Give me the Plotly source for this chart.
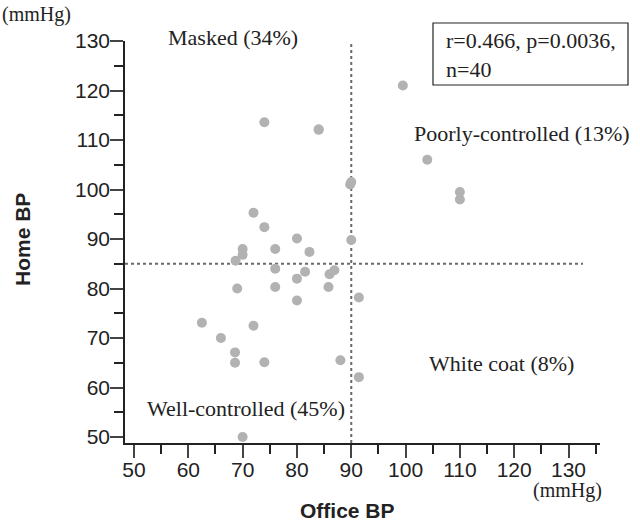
import plotly.graph_objects as go

# Data (Office BP vs Home BP, mmHg)
office_bp = [74, 84, 84, 99.5, 104, 110, 110, 90, 89.8, 72, 74, 80, 70, 70, 76, 82.3,
             90, 68.7, 76, 81.5, 86.9, 86, 80, 69, 76, 85.8, 80, 91.4, 62.5, 72, 66,
             68.6, 68.6, 74, 88, 91.4, 70]
home_bp = [113.6, 112.1, 112.1, 121, 106, 99.5, 98, 101.5, 101, 95.3, 92.4, 90.1, 88,
           86.8, 88, 87.4, 89.8, 85.6, 84, 83.4, 83.7, 82.9, 82, 80, 80.3, 80.3, 77.6,
           78.2, 73.1, 72.5, 70, 67.1, 65, 65.1, 65.5, 62.1, 50]

x_ticks = [50, 60, 70, 80, 90, 100, 110, 120, 130]
y_ticks = [50, 60, 70, 80, 90, 100, 110, 120, 130]
office_cut = 90
home_cut = 85

W, H = 640, 524
L, R, T, B = 125, 40, 41, 81
PW, PH = W - L - R, H - T - B

def px(x):
    return (x - L) / PW

def py(y):
    return (H - B - y) / PH

fig = go.Figure()
fig.add_trace(go.Scatter(
    x=office_bp, y=home_bp, mode="markers",
    marker=dict(size=10, color="#b2b2b2", line=dict(width=0)),
    showlegend=False, cliponaxis=False,
))

dot = dict(color="#6a6a6a", width=2, dash="dot")
fig.add_shape(type="line", xref="x", yref="paper", x0=office_cut, x1=office_cut,
              y0=0, y1=1.0, line=dot, layer="below")
fig.add_shape(type="line", xref="paper", yref="y", x0=0, x1=px(583),
              y0=home_cut, y1=home_cut, line=dot, layer="below")

# stats box
fig.add_shape(type="rect", xref="paper", yref="paper",
              x0=px(433), x1=px(628), y0=py(85), y1=py(23),
              line=dict(color="#222", width=1.2), fillcolor="white")

serif = dict(family="Liberation Serif, Times New Roman, serif", size=22, color="#222")
serif_s = dict(family="Liberation Serif, Times New Roman, serif", size=20, color="#222")
sans_b = dict(family="Liberation Sans, Arial, sans-serif", size=21, color="#222")

def ann(text, x, y, font, xanchor="center", yanchor="middle", align="center", angle=0):
    fig.add_annotation(text=text, xref="paper", yref="paper", x=px(x), y=py(y),
                       xanchor=xanchor, yanchor=yanchor, showarrow=False,
                       font=font, align=align, textangle=angle)

ann("r=0.466, p=0.0036,<br>n=40", 444, 55, serif, xanchor="left", align="left")
ann("Masked (34%)", 233, 37, serif)
ann("Poorly-controlled (13%)", 522, 133, serif)
ann("White coat (8%)", 501, 363, serif)
ann("Well-controlled (45%)", 246, 408, serif)
ann("(mmHg)", 36, 15, serif_s)
ann("(mmHg)", 567, 490, serif_s)
ann("<b>Office BP</b>", 347, 510, sans_b)
ann("<b>Home BP</b>", 22, 240, sans_b, angle=-90)

axis_common = dict(
    showgrid=False, zeroline=False, showline=True, linecolor="#222", linewidth=1.5,
    ticks="outside", ticklen=13, tickwidth=1.5, tickcolor="#444",
    tickfont=dict(family="Liberation Sans, Arial, sans-serif", size=21, color="#222"),
    minor=dict(ticks="outside", ticklen=9, tickwidth=1.5, tickcolor="#222",
               dtick=5, showgrid=False),
)

fig.update_xaxes(range=[48.34, 135.8], tickvals=x_ticks, ticklabelstandoff=-6, **axis_common)
fig.update_yaxes(range=[48.8, 130], tickvals=y_ticks, ticklabelstandoff=-4, **axis_common)

fig.update_layout(
    width=W, height=H, margin=dict(l=L, r=R, t=T, b=B),
    plot_bgcolor="white", paper_bgcolor="white",
)

fig.write_html("out.html")
